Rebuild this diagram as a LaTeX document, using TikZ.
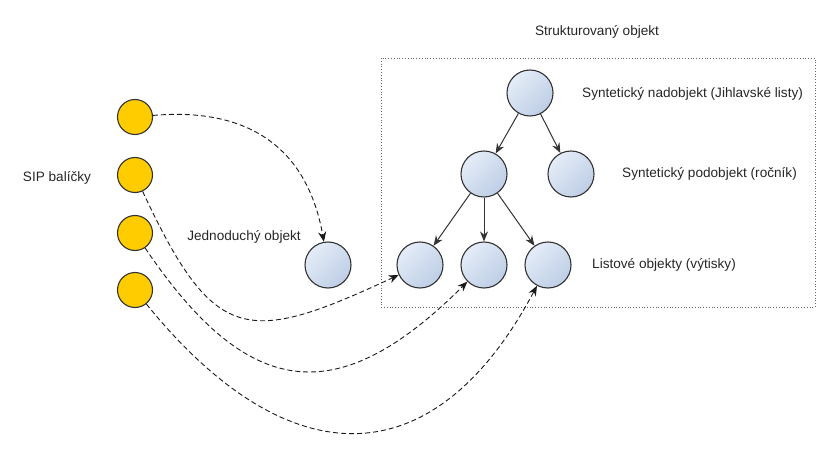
\documentclass[tikz,border=0pt]{standalone}
\usepackage{fontspec}
\setmainfont{Liberation Sans}
\usetikzlibrary{arrows.meta}
\definecolor{sipyellow}{RGB}{255,204,0}
\definecolor{objlight}{RGB}{228,236,247}
\definecolor{objdark}{RGB}{190,206,230}
\definecolor{edgegray}{RGB}{51,51,51}
\begin{document}
\begin{tikzpicture}[x=1pt,y=-1pt,
		sip/.style={circle, draw=edgegray, line width=1.1pt, fill=sipyellow, minimum size=35pt, inner sep=0pt},
		obj/.style={circle, draw=edgegray, line width=1.1pt, left color=objlight, right color=objdark, shading angle=45, minimum size=46pt, inner sep=0pt},
		label/.style={font=\fontsize{13.6}{16}\selectfont, text=black!85, inner sep=0pt},
		link/.style={draw=black!90, line width=0.9pt, dash pattern=on 5pt off 3pt, -{Stealth[length=10pt,width=8pt]}},
		tree/.style={draw=edgegray, line width=1pt, -{Stealth[length=10pt,width=8pt]}}]
			\useasboundingbox (0,0) rectangle (834,454);
			\draw[dotted, black!60, line width=0.8pt] (381,58) rectangle (815,307);
			
			% SIP packages
			\node[sip] (s1) at (135,117) {};
			\node[sip] (s2) at (135,175) {};
			\node[sip] (s3) at (135,233) {};
			\node[sip] (s4) at (135,290) {};
			
			% objects
			\node[obj] (simple) at (328,265) {};
			\node[obj] (root) at (530,93) {};
			\node[obj] (mid1) at (484,174) {};
			\node[obj] (mid2) at (571,174) {};
			\node[obj] (leaf1) at (420,265) {};
			\node[obj] (leaf2) at (484,265) {};
			\node[obj] (leaf3) at (548,265) {};
			
			\node[label] (tsip) at (57,178) {SIP balíčky};
			\node[label] (tsimple) at (244,237) {Jednoduchý objekt};
			\node[label] (tstruct) at (597,32) {Strukturovaný objekt};
			\node[label, anchor=west] (troot) at (582,94) {Syntetický nadobjekt (Jihlavské listy)};
			\node[label, anchor=west] (tmid) at (622,174) {Syntetický podobjekt (ročník)};
			\node[label, anchor=west] (tleaf) at (592,265) {Listové objekty (výtisky)};
			
			\draw[tree] (root) -- (mid1);
			\draw[tree] (root) -- (mid2);
			\draw[tree] (mid1) -- (leaf1);
			\draw[tree] (mid1) -- (leaf2);
			\draw[tree] (mid1) -- (leaf3);
			
			\draw[link] (s1) to[out=5, in=100, looseness=1.15] (simple);
			\draw[link] (s2) to[out=-65, in=205, looseness=1.6] (leaf1);
			\draw[link] (s3) to[out=-56, in=225, looseness=1.45] (leaf2);
			\draw[link] (s4) to[out=-51, in=242, looseness=1.45] (leaf3);
			
		\end{tikzpicture}
\end{document}
